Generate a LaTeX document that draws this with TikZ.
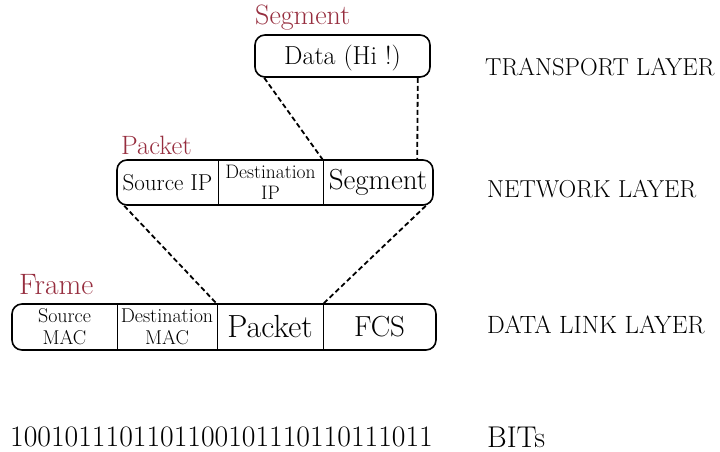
\documentclass[tikz,border=0pt]{standalone}
\usepackage{xcolor}
\definecolor{labelred}{RGB}{150,45,62}
\tikzset{
  fs/.style={font=\fontsize{#1}{#1}\selectfont},
  pdu/.style={draw, line width=1.6pt, rounded corners=10pt, inner sep=0pt},
  cell/.style={inner sep=0pt, minimum height=#1, align=center},
  divider/.style={line width=1.3pt},
  conn/.style={line width=1.8pt, dash pattern=on 5pt off 3pt},
  pdutitle/.style={anchor=west, text=labelred, inner sep=0pt},
  layer/.style={anchor=west, inner sep=0pt, fs=24.5},
}
\begin{document}
\begin{tikzpicture}[x=1pt,y=-1pt]
\useasboundingbox (0,0) rectangle (720,452);

% ---------- transport layer: segment ----------
\node[pdutitle, fs=28] (segt) at (255,18) {Segment};
\node[pdu, minimum width=175pt, minimum height=42pt] (data) at (342.5,56) {};
\node[fs=26] (datatxt) at ([yshift=-2pt]data.center) {Data (Hi !)};
\node[layer] (ltrans) at (485,67) {TRANSPORT LAYER};

% ---------- network layer: packet ----------
\node[pdutitle, fs=26.5] (pktt) at (121,145) {Packet};
\node[pdu, minimum width=316pt, minimum height=45pt] (packet) at (275,182.5) {};
\node[cell=45pt, minimum width=101pt, fs=23] (psrc) at (167.5,182.5) {Source IP};
\node[cell=45pt, minimum width=105pt, fs=19.5] (pdst) at (270.5,182.5) {Destination\\[1pt]IP};
\node[cell=45pt, minimum width=110pt, fs=29] (pseg) at (378,182.5) {Segment};
\draw[divider] (psrc.north east) -- (psrc.south east);
\draw[divider] (pdst.north east) -- (pdst.south east);
\node[layer] (lnet) at (487,189) {NETWORK LAYER};

% ---------- data link layer: frame ----------
\node[pdutitle, fs=29.5] (frmt) at (19,285) {Frame};
\node[pdu, minimum width=424pt, minimum height=46pt] (frame) at (224,327) {};
\node[cell=46pt, minimum width=105pt, fs=20] (fsrc) at (64.5,327) {Source\\[2pt]MAC};
\node[cell=46pt, minimum width=100pt, fs=20] (fdst) at (167,327) {Destination\\[2pt]MAC};
\node[cell=46pt, minimum width=106pt, fs=32] (fpkt) at (270,327) {\raisebox{-2pt}{Packet}};
\node[cell=46pt, minimum width=113pt, fs=29] (ffcs) at (379.5,327) {\raisebox{-2pt}{FCS}};
\draw[divider] (fsrc.north east) -- (fsrc.south east);
\draw[divider] (fdst.north east) -- (fdst.south east);
\draw[divider] (fpkt.north east) -- (fpkt.south east);
\node[layer, fs=25] (llink) at (487,325) {DATA LINK LAYER};

% ---------- physical layer: bits ----------
\node[anchor=west, inner sep=0pt, fs=29.7] (bits) at (10,437) {1001011101101100101110110111011};
\node[layer, fs=30] (lbits) at (487,437) {BITs};

% ---------- encapsulation guides ----------
\draw[conn] ([xshift=10pt]data.south west) -- (pseg.north west);
\draw[conn] ([xshift=-13pt]data.south east) -- ([xshift=-16pt]pseg.north east);
\draw[conn] ([xshift=8pt]packet.south west) -- (fpkt.north west);
\draw[conn] ([xshift=-8pt]packet.south east) -- (fpkt.north east);
\end{tikzpicture}
\end{document}
